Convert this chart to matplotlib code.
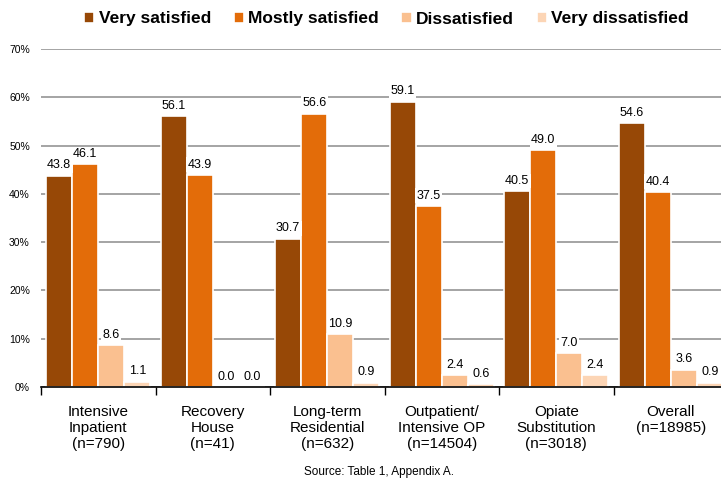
import matplotlib
matplotlib.use("Agg")
import matplotlib.pyplot as plt
import numpy as np

plt.rcParams['font.family'] = ['Liberation Sans', 'DejaVu Sans']

categories = ['Intensive\nInpatient\n(n=790)', 'Recovery\nHouse\n(n=41)',
              'Long-term\nResidential\n(n=632)', 'Outpatient/\nIntensive OP\n(n=14504)',
              'Opiate\nSubstitution\n(n=3018)', 'Overall\n(n=18985)']
series_names = ['Very satisfied', 'Mostly satisfied', 'Dissatisfied', 'Very dissatisfied']
very_satisfied = [43.8, 56.1, 30.7, 59.1, 40.5, 54.6]
mostly_satisfied = [46.1, 43.9, 56.6, 37.5, 49.0, 40.4]
dissatisfied = [8.6, 0.0, 10.9, 2.4, 7.0, 3.6]
very_dissatisfied = [1.1, 0.0, 0.9, 0.6, 2.4, 0.9]
colors = ['#974806', '#E36C09', '#FAC090', '#FCD5B5']

series = [very_satisfied, mostly_satisfied, dissatisfied, very_dissatisfied]

fig = plt.figure(figsize=(7.21, 4.79), dpi=100)
ax = fig.add_axes([41 / 721, 1 - 387 / 479, 687 / 721, 338 / 479])

x = np.arange(len(categories))
w = 0.228
for i, (vals, name, c) in enumerate(zip(series, series_names, colors)):
    pos = x + (i - 1.5) * w
    ax.bar(pos, vals, width=w, color=c, edgecolor='white', linewidth=1.2,
           label=name, zorder=2)
    for px, v in zip(pos, vals):
        ax.text(px, v + 0.9, f'{v:.1f}', ha='center', va='bottom', fontsize=9,
                zorder=3, bbox=dict(facecolor='white', edgecolor='none', pad=1.0))

ax.set_xlim(-0.5, len(categories) - 0.5)
ax.set_ylim(0, 70)
ax.set_yticks(np.arange(0, 71, 10))
ax.set_yticklabels([f'{t}%' for t in range(0, 71, 10)], fontsize=7.5)
ax.yaxis.grid(True, color='#8c8c8c', linewidth=1.1, zorder=0)
ax.tick_params(axis='y', length=0, pad=8)

ax.set_xticks(x)
ax.set_xticklabels(categories, fontsize=11, linespacing=1.2)
ax.set_xticks(np.arange(-0.5, len(categories), 1), minor=True)
ax.tick_params(axis='x', which='major', length=0, pad=13)
ax.tick_params(axis='x', which='minor', length=6, width=1, color='black', direction='out')

for s in ['top', 'right', 'left']:
    ax.spines[s].set_visible(False)
ax.spines['bottom'].set_color('black')
ax.spines['bottom'].set_linewidth(1.2)

leg = fig.legend(loc='center', bbox_to_anchor=(0.536, 1 - 19 / 479), ncol=4, frameon=False,
                 prop={'weight': 'bold', 'size': 12.5}, handlelength=0.6, handleheight=0.6,
                 handletextpad=0.25, columnspacing=1.3)

fig.text(0.525, 1 - 472 / 479, 'Source: Table 1, Appendix A.', ha='center', va='center',
         fontsize=8.5)

fig.savefig('out.png', dpi=100)
